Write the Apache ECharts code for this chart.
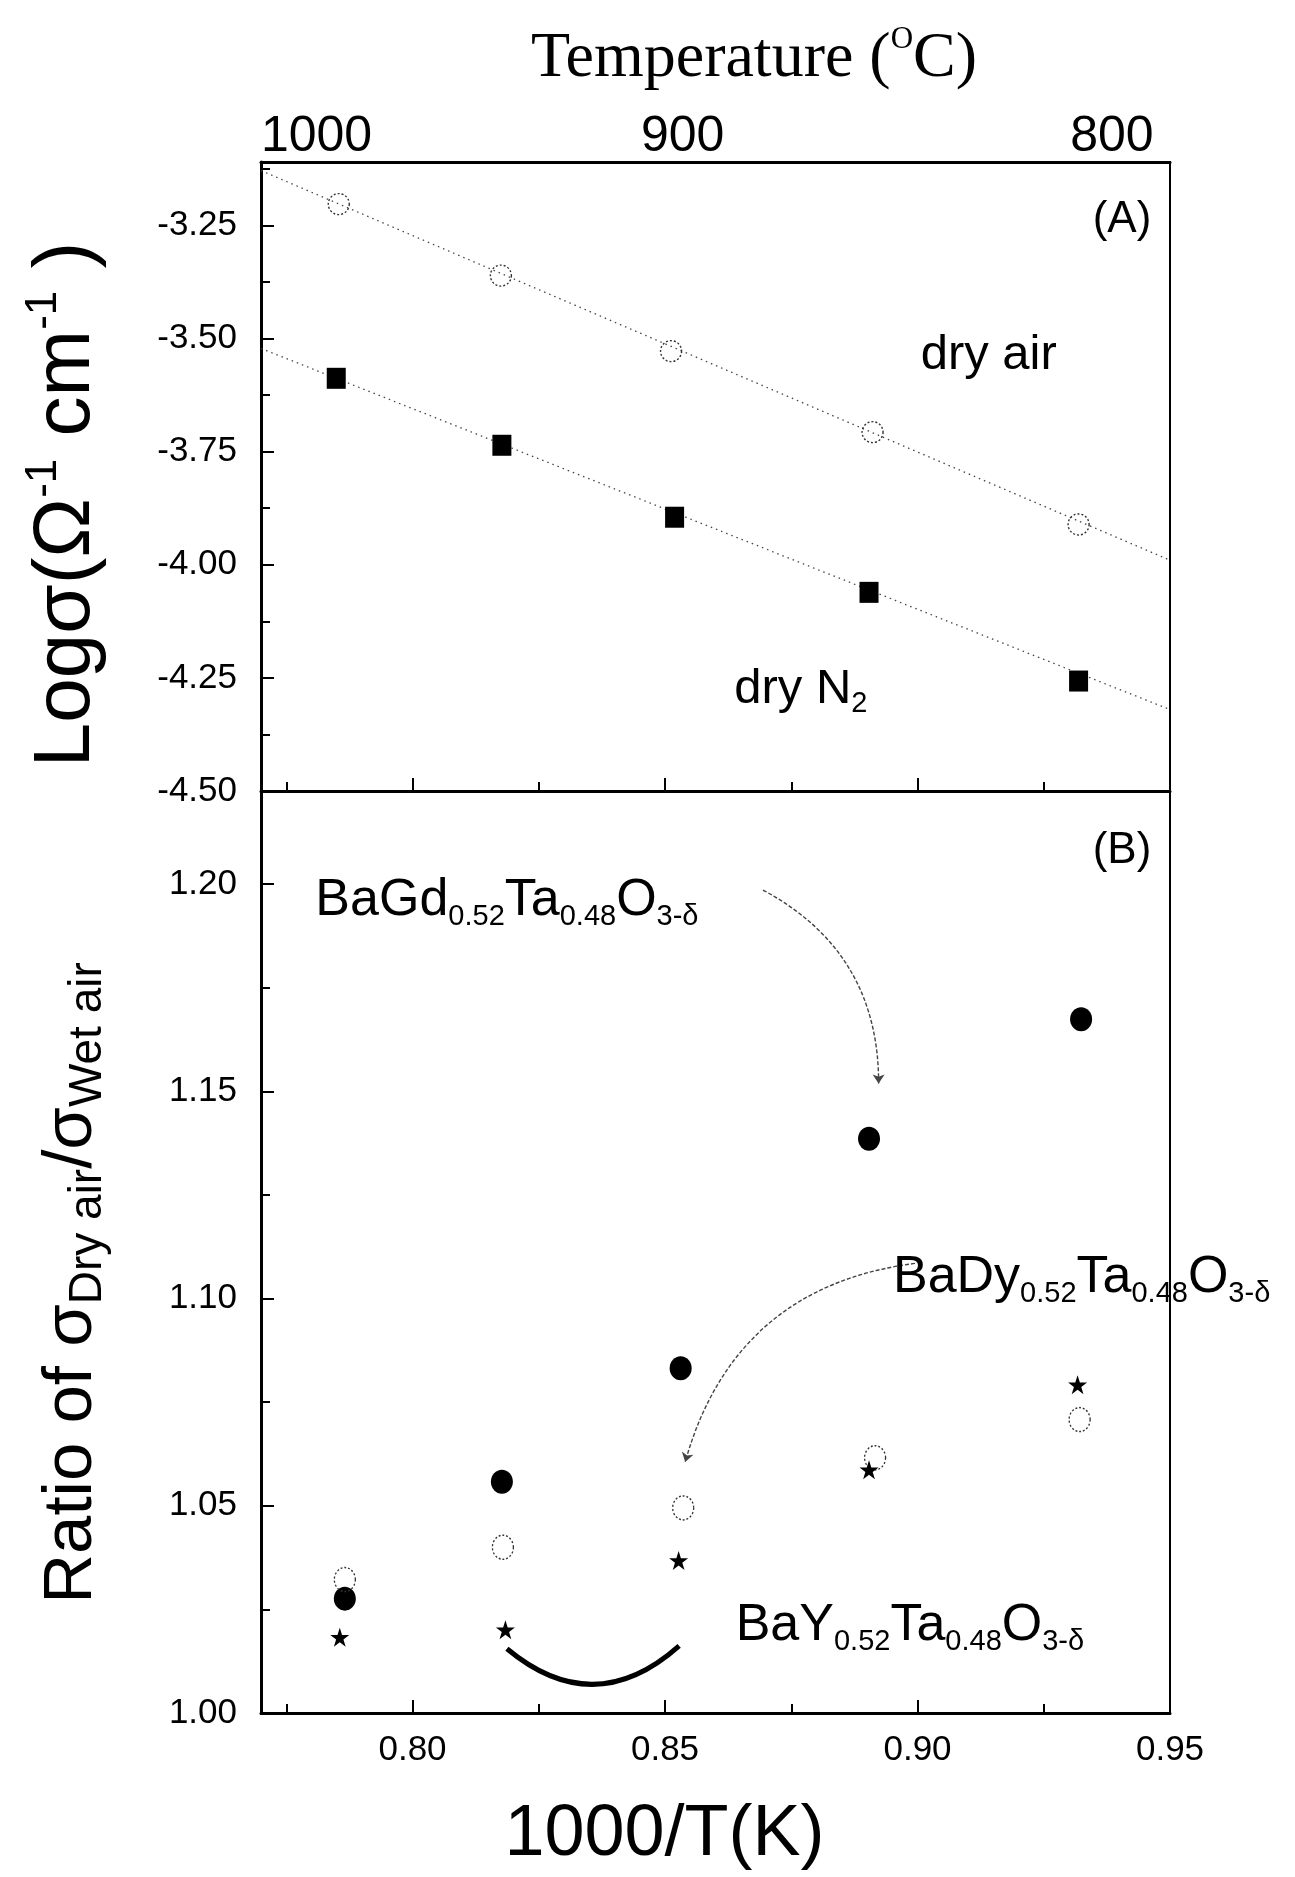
<!DOCTYPE html>
<html><head><meta charset="utf-8">
<script src="https://cdn.jsdelivr.net/npm/echarts@6/dist/echarts.min.js"></script>
<style>html,body{margin:0;padding:0;background:#fff}#c{width:1295px;height:1877px}</style>
</head><body><div id="c"></div>
<script>
// ---- axis ticks / labels ----
const xMajorTicks = [0.80, 0.85, 0.90, 0.95];
const xMinorTicks = [0.775, 0.825, 0.875, 0.925];
const tempLabels = ['1000', '900', '800'];
const tempLabelAt = [0.781, 0.8535, 0.9385];

// ---- panel A: log conductivity ----
const dryAirX = [0.7854, 0.8175, 0.8512, 0.8911, 0.9319];
const dryAirLogSigma = [-3.203, -3.361, -3.528, -3.707, -3.911];
const dryN2X = [0.7849, 0.8177, 0.8519, 0.8904, 0.9319];
const dryN2LogSigma = [-3.588, -3.736, -3.895, -4.061, -4.257];
const dryAirFitX = [0.77, 0.95];
const dryAirFitY = [-3.129, -3.99];
const dryN2FitX = [0.77, 0.95];
const dryN2FitY = [-3.522, -4.32];

// ---- panel B: ratio dry/wet ----
const gdX = [0.7866, 0.8177, 0.8531, 0.8904, 0.9324];
const gdRatio = [1.0276, 1.0558, 1.0832, 1.1386, 1.1674];
const dyX = [0.7866, 0.8179, 0.8536, 0.8916, 0.9321];
const dyRatio = [1.0322, 1.0400, 1.0495, 1.0616, 1.0708];
const yX = [0.7856, 0.8184, 0.8527, 0.8904, 0.9317];
const yRatio = [1.0183, 1.0201, 1.0368, 1.0587, 1.0792];

const zip = (a, b) => a.map((v, i) => [v, b[i]]);
const FONT = 'Liberation Sans, Arial, sans-serif';
const STAR = 'path://M50,0 L61.8,35.1 L98.9,35.1 L68.9,56.8 L80.3,91.9 L50,70.2 L19.7,91.9 L31.1,56.8 L1.1,35.1 L38.2,35.1 Z';
const openCircle = {color: 'rgba(0,0,0,0)', borderColor: '#333', borderWidth: 1.4, borderType: [2, 2], opacity: 1};
const solid = {color: '#000', opacity: 1};

const chart = echarts.init(document.getElementById('c'), null, {renderer: 'canvas'});

const axisLine = {show: true, lineStyle: {color: '#000', width: 3}};
const xLabelStyle = {fontFamily: FONT, fontSize: 35, color: '#000'};

const annRich = {
  m: {fontFamily: FONT, fontSize: 52, color: '#000', lineHeight: 62},
  s: {fontFamily: FONT, fontSize: 29, color: '#000', lineHeight: 22, verticalAlign: 'bottom'},
  p: {fontFamily: FONT, fontSize: 44, color: '#000', lineHeight: 52},
  d: {fontFamily: FONT, fontSize: 49, color: '#000', lineHeight: 58},
  ds: {fontFamily: FONT, fontSize: 29, color: '#000', lineHeight: 22, verticalAlign: 'bottom'}
};
function ann(x, y, text) {
  return {value: [x, y], label: {formatter: text}};
}

const option = {
  backgroundColor: '#fff',
  animation: false,
  grid: [
    {left: 261, right: 125, top: 162, height: 629, show: true, borderColor: '#000', borderWidth: 2},
    {left: 261, right: 125, top: 791, height: 922, show: true, borderColor: '#000', borderWidth: 2}
  ],
  xAxis: [
    {gridIndex: 0, type: 'value', position: 'bottom', min: 0.77, max: 0.95,
     axisLine: axisLine, splitLine: {show: false}, axisLabel: {show: false, customValues: xMajorTicks},
     axisTick: {show: true, inside: true, length: 13, customValues: xMajorTicks, lineStyle: {color: '#000', width: 2}}},
    {gridIndex: 0, type: 'value', position: 'bottom', min: 0.77, max: 0.95,
     axisLine: {show: false}, splitLine: {show: false}, axisLabel: {show: false, customValues: xMinorTicks},
     axisTick: {show: true, inside: true, length: 9, customValues: xMinorTicks, lineStyle: {color: '#000', width: 2}}},
    {gridIndex: 0, type: 'value', position: 'top', min: 0.77, max: 0.95,
     axisLine: axisLine, splitLine: {show: false}, axisTick: {show: false},
     axisLabel: {show: true, customValues: tempLabelAt, margin: 0, fontFamily: FONT, fontSize: 50, color: '#000',
       formatter: function (v) {
         let best = 0;
         tempLabelAt.forEach((t, i) => { if (Math.abs(t - v) < Math.abs(tempLabelAt[best] - v)) best = i; });
         return tempLabels[best];
       }},
     name: '{m|Temperature (}{s|O}{m|C)}', nameLocation: 'middle', nameGap: 68,
     nameTextStyle: {padding: [0, 0, 0, 77], rich: {
       m: {fontFamily: 'Liberation Serif, Times New Roman, serif', fontSize: 64, lineHeight: 70, color: '#000'},
       s: {fontFamily: 'Liberation Serif, Times New Roman, serif', fontSize: 31, lineHeight: 46, color: '#000', verticalAlign: 'top'}
     }}},
    {gridIndex: 1, type: 'value', position: 'bottom', min: 0.77, max: 0.95,
     axisLine: axisLine, splitLine: {show: false},
     axisLabel: {show: true, customValues: xMajorTicks, margin: 20, ...xLabelStyle, formatter: v => v.toFixed(2)},
     axisTick: {show: true, inside: true, length: 13, customValues: xMajorTicks, lineStyle: {color: '#000', width: 2}},
     name: '1000/T(K)', nameLocation: 'middle', nameGap: 82,
     nameTextStyle: {fontFamily: FONT, fontSize: 72, lineHeight: 80, color: '#000', padding: [0, 102, 0, 0]}},
    {gridIndex: 1, type: 'value', position: 'bottom', min: 0.77, max: 0.95,
     axisLine: {show: false}, splitLine: {show: false}, axisLabel: {show: false, customValues: xMinorTicks},
     axisTick: {show: true, inside: true, length: 9, customValues: xMinorTicks, lineStyle: {color: '#000', width: 2}}}
  ],
  yAxis: [
    {gridIndex: 0, type: 'value', min: -4.5, max: -3.11, interval: 0.25,
     axisLine: axisLine, splitLine: {show: false},
     axisTick: {show: true, inside: true, length: 13, lineStyle: {color: '#000', width: 2}},
     minorTick: {show: true, splitNumber: 2, length: 9, lineStyle: {color: '#000', width: 2}},
     axisLabel: {showMaxLabel: false, margin: 24, fontFamily: FONT, fontSize: 35, color: '#000', formatter: v => v.toFixed(2)},
     name: '{m|Log\u03c3(\u03a9}{s|-1}{m| cm}{s|-1}{m| )}', nameLocation: 'middle', nameGap: 149,
     nameTextStyle: {padding: [0, 56, 0, 0], rich: {
       m: {fontFamily: FONT, fontSize: 80, lineHeight: 90, color: '#000'},
       s: {fontFamily: FONT, fontSize: 44, lineHeight: 50, color: '#000', verticalAlign: 'top'}
     }}},
    {gridIndex: 1, type: 'value', min: 1.0, max: 1.2225, interval: 0.05,
     axisLine: axisLine, splitLine: {show: false},
     axisTick: {show: true, inside: true, length: 13, lineStyle: {color: '#000', width: 2}},
     minorTick: {show: true, splitNumber: 2, length: 9, lineStyle: {color: '#000', width: 2}},
     axisLabel: {showMaxLabel: false, margin: 24, fontFamily: FONT, fontSize: 35, color: '#000', formatter: v => v.toFixed(2)},
     name: '{m|Ratio of \u03c3}{s|Dry air}{m|/\u03c3}{s|Wet air}', nameLocation: 'middle', nameGap: 150,
     nameTextStyle: {padding: [0, 62, 0, 0], rich: {
       m: {fontFamily: FONT, fontSize: 69, lineHeight: 78, color: '#000'},
       s: {fontFamily: FONT, fontSize: 46, lineHeight: 40, color: '#000', verticalAlign: 'bottom'}
     }}}
  ],
  series: [
    // panel A fit lines
    {type: 'line', xAxisIndex: 0, yAxisIndex: 0, data: zip(dryAirFitX, dryAirFitY), symbol: 'none',
     lineStyle: {color: '#444', width: 1.3, type: [1.5, 4], opacity: 1}, z: 2, silent: true},
    {type: 'line', xAxisIndex: 0, yAxisIndex: 0, data: zip(dryN2FitX, dryN2FitY), symbol: 'none',
     lineStyle: {color: '#444', width: 1.3, type: [1.5, 4], opacity: 1}, z: 2, silent: true},
    {type: 'scatter', name: 'dry air', xAxisIndex: 0, yAxisIndex: 0, data: zip(dryAirX, dryAirLogSigma),
     symbol: 'circle', symbolSize: 21, itemStyle: openCircle, z: 3},
    {type: 'scatter', name: 'dry N2', xAxisIndex: 0, yAxisIndex: 0, data: zip(dryN2X, dryN2LogSigma),
     symbol: 'rect', symbolSize: [19, 21], itemStyle: solid, z: 3},
    // panel B
    {type: 'scatter', name: 'BaGd', xAxisIndex: 3, yAxisIndex: 1, data: zip(gdX, gdRatio),
     symbol: 'circle', symbolSize: [22, 24], itemStyle: solid, z: 3},
    {type: 'scatter', name: 'BaDy', xAxisIndex: 3, yAxisIndex: 1, data: zip(dyX, dyRatio),
     symbol: 'circle', symbolSize: [21, 24], itemStyle: openCircle, z: 3},
    {type: 'scatter', name: 'BaY', xAxisIndex: 3, yAxisIndex: 1, data: zip(yX, yRatio),
     symbol: STAR, symbolSize: 19, itemStyle: solid, z: 3},
    // annotation arrows
    {type: 'lines', coordinateSystem: 'cartesian2d', xAxisIndex: 3, yAxisIndex: 1, silent: true, z: 4,
     symbol: ['none', 'arrow'], symbolSize: 9,
     lineStyle: {color: '#444', width: 1.4, type: [4, 2], opacity: 1},
     data: [
       {coords: [[0.8694, 1.1986], [0.8923, 1.1519]], lineStyle: {curveness: 0.3}},
       {coords: [[0.8995, 1.1085], [0.854, 1.0606]], lineStyle: {curveness: -0.33}}
     ]},
    {type: 'lines', coordinateSystem: 'cartesian2d', xAxisIndex: 3, yAxisIndex: 1, silent: true, z: 4,
     symbol: 'none', lineStyle: {color: '#000', width: 5, opacity: 1},
     data: [{coords: [[0.8187, 1.0155], [0.8528, 1.0162]], lineStyle: {curveness: -0.43}}]},
    // annotation text, panel A
    {type: 'scatter', xAxisIndex: 0, yAxisIndex: 0, symbolSize: 1, itemStyle: {color: 'rgba(0,0,0,0)', opacity: 1},
     silent: true, clip: false, z: 5,
     label: {show: true, position: 'inside', align: 'center', verticalAlign: 'middle', opacity: 1, rich: annRich},
     data: [
       ann(0.9405, -3.237, '{p|(A)}'),
       ann(0.9141, -3.537, '{d|dry air}'),
       ann(0.8769, -4.275, '{d|dry N}{ds|2}')
     ]},
    // annotation text, panel B
    {type: 'scatter', xAxisIndex: 3, yAxisIndex: 1, symbolSize: 1, itemStyle: {color: 'rgba(0,0,0,0)', opacity: 1},
     silent: true, clip: false, z: 5,
     label: {show: true, position: 'inside', align: 'center', verticalAlign: 'middle', opacity: 1, rich: annRich},
     data: [
       ann(0.9405, 1.208, '{p|(B)}'),
       ann(0.8187, 1.196, '{m|BaGd}{s|0.52}{m|Ta}{s|0.48}{m|O}{s|3-\u03b4}'),
       ann(0.9325, 1.105, '{m|BaDy}{s|0.52}{m|Ta}{s|0.48}{m|O}{s|3-\u03b4}'),
       ann(0.8985, 1.021, '{m|BaY}{s|0.52}{m|Ta}{s|0.48}{m|O}{s|3-\u03b4}')
     ]}
  ]
};
chart.setOption(option);
</script>
</body></html>
